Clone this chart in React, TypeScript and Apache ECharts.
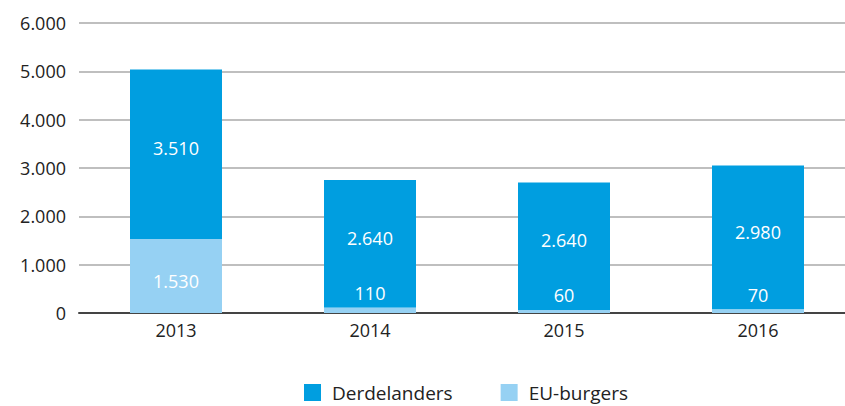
import React, { useEffect, useRef } from "react";
import * as echarts from "echarts";

const categories = ["2013", "2014", "2015", "2016"];
const derdelanders = [3510, 2640, 2640, 2980];
const euBurgers = [1530, 110, 60, 70];
const yTicks = [0, 1000, 2000, 3000, 4000, 5000, 6000];

const DARK = "#009ee0";
const LIGHT = "#96d1f3";
const FONT = "Open Sans";

const fmt = (v: number) => String(v).replace(/\B(?=(\d{3})+(?!\d))/g, ".");

export default function App() {
  const ref = useRef<HTMLDivElement>(null);
  useEffect(() => {
    if (!ref.current) return;
    const chart = echarts.init(ref.current, undefined, { renderer: "svg" });
    const maxTick = yTicks[yTicks.length - 1];
    chart.setOption({
      animation: false,
      textStyle: { fontFamily: FONT },
      grid: {
        left: 79,
        width: 776,
        top: 23,
        height: 290,
        containLabel: false,
        outerBoundsMode: "none",
      },
      legend: {
        top: 383,
        left: 304,
        padding: 0,
        itemWidth: 17,
        itemHeight: 17,
        itemGap: 48,
        icon: "rect",
        textStyle: {
          fontFamily: FONT,
          fontSize: 19,
          lineHeight: 17,
          color: "#222",
          padding: [0, 0, 0, 6],
        },
        data: ["Derdelanders", "EU-burgers"],
      },
      xAxis: {
        type: "category",
        data: categories,
        axisLine: { show: true, lineStyle: { color: "#444", width: 2 } },
        axisTick: { show: false },
        axisLabel: { fontFamily: FONT, fontSize: 18, color: "#222", margin: 8 },
      },
      yAxis: {
        type: "value",
        min: 0,
        max: maxTick,
        interval: 1000,
        axisLine: { show: false },
        axisTick: { show: false },
        splitLine: { lineStyle: { color: "#aaa", width: 1.5 } },
        axisLabel: {
          fontFamily: FONT,
          fontSize: 18,
          color: "#222",
          margin: 13,
          formatter: (v: number) => fmt(v),
        },
      },
      series: [
        {
          name: "EU-burgers",
          type: "bar",
          stack: "total",
          barWidth: 92,
          itemStyle: { color: LIGHT },
          data: euBurgers.map((v) => ({
            value: v,
            label:
              v < 500
                ? { position: "top", distance: 6 }
                : { position: "inside", offset: [0, 5] },
          })),
          label: {
            show: true,
            color: "#fff",
            fontFamily: FONT,
            fontSize: 18,
            formatter: (p: any) => fmt(p.value),
          },
          z: 3,
        },
        {
          name: "Derdelanders",
          type: "bar",
          stack: "total",
          barWidth: 92,
          itemStyle: { color: DARK },
          data: derdelanders,
          label: {
            show: true,
            position: "inside",
            offset: [0, -6],
            color: "#fff",
            fontFamily: FONT,
            fontSize: 18,
            formatter: (p: any) => fmt(p.value),
          },
          z: 2,
        },
      ],
    });
    return () => chart.dispose();
  }, []);
  return <div ref={ref} style={{ width: 845, height: 406, position: "absolute", left: 0, top: 0 }} />;
}
